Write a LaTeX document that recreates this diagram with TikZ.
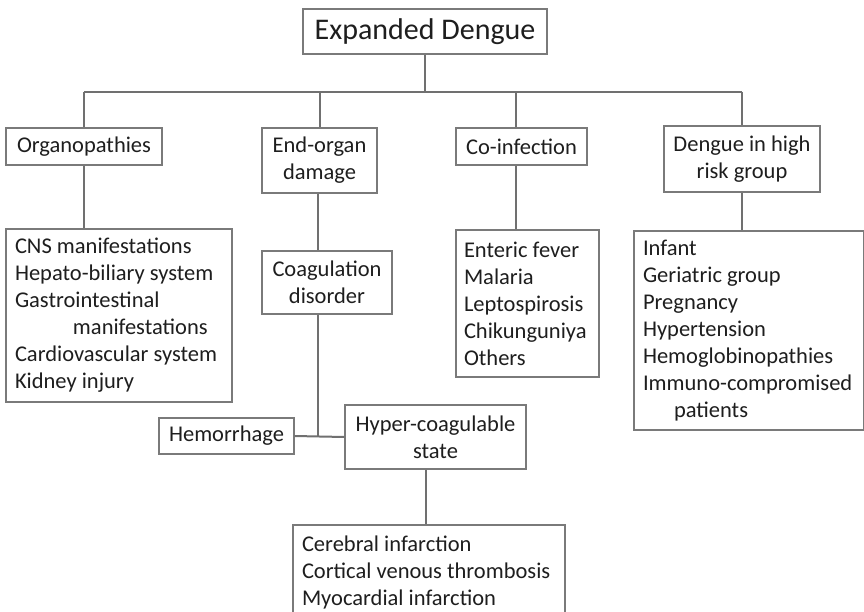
\documentclass[tikz,border=0pt]{standalone}
\usepackage{fontspec}
\setmainfont{Carlito}
\usetikzlibrary{calc}
\definecolor{linegray}{HTML}{707070}
\definecolor{boxgray}{HTML}{7A7A7A}
\definecolor{txt}{HTML}{1E1E1E}

\begin{document}
\begin{tikzpicture}[x=1pt, y=-1pt,
    box/.style={draw=boxgray, line width=1.4pt, inner sep=0pt, text=txt, align=center,
        font=\fontsize{22.5}{27}\selectfont},
    listbox/.style={box, align=flush left, inner xsep=9pt},
    link/.style={draw=linegray, line width=2pt}]
            \clip (0,0) rectangle (864,612);
            \fill[white] (0,0) rectangle (864,612);
            \node[box, minimum width=244, minimum height=45, font=\fontsize{30}{36}\selectfont] (top) at (425,31.5) {Expanded Dengue};
            \node[box, minimum width=156, minimum height=37] (organ) at (84,146.5) {Organopathies};
            \node[box, minimum width=115, minimum height=65] (endorg) at (319.5,160.5) {End-organ\\damage};
            \node[box, minimum width=131, minimum height=37] (coinf) at (521.5,146.5) {Co-infection};
            \node[box, minimum width=156, minimum height=66] (risk) at (742,159) {Dengue in high\\risk group};
            \node[listbox, text width=208, minimum height=173] (organlist) at (119,315.5) {CNS manifestations\\Hepato-biliary system\\Gastrointestinal\\\hspace*{58pt}manifestations\\Cardiovascular system\\Kidney injury};
            \node[box, minimum width=130, minimum height=63] (coag) at (327,282.5) {Coagulation\\disorder};
            \node[listbox, inner xsep=8pt, text width=127, minimum height=147] (coinflist) at (527.5,303.5) {Enteric fever\\Malaria\\Leptospirosis\\Chikunguniya\\Others};
            \node[listbox, text width=212, minimum height=199] (risklist) at (749,330.5) {Infant\\Geriatric group\\Pregnancy\\Hypertension\\Hemoglobinopathies\\Immuno-compromised\\\hspace*{31pt}patients};
            \node[box, minimum width=135, minimum height=36] (hemo) at (226.5,436) {Hemorrhage};
            \node[box, minimum width=181, minimum height=64] (hyper) at (435.5,437) {Hyper-coagulable\\state};
            \node[listbox, inner xsep=9pt, text width=254, minimum height=94] (hyperlist) at (429,572) {Cerebral infarction\\Cortical venous thrombosis\\Myocardial infarction};
            % tree connectors
            \coordinate (bus) at (425,92); \coordinate (cx) at (516,92); \coordinate (jn) at (318,436); \coordinate (hx) at (426,0);
            \draw[link] (top.south) -- (bus);
            \draw[link] (organ.north |- bus) -- (risk.north |- bus);
            \draw[link] (organ.north |- bus) -- (organ.north);
            \draw[link] (endorg.north |- bus) -- (endorg.north);
            \draw[link] (cx) -- (cx |- coinf.north);
            \draw[link] (risk.north |- bus) -- (risk.north);
            \draw[link] (organ.south) -- (organ.south |- organlist.north);
            \draw[link] (cx |- coinf.south) -- (cx |- coinflist.north);
            \draw[link] (risk.south) -- (risk.south |- risklist.north);
            \draw[link] (jn |- endorg.south) -- (jn |- coag.north);
            \draw[link] (jn |- coag.south) -- (jn);
            \draw[link] (hemo.east) -- (hyper.west);
            \draw[link] (hx |- hyper.south) -- (hx |- hyperlist.north);
        \end{tikzpicture}
\end{document}
